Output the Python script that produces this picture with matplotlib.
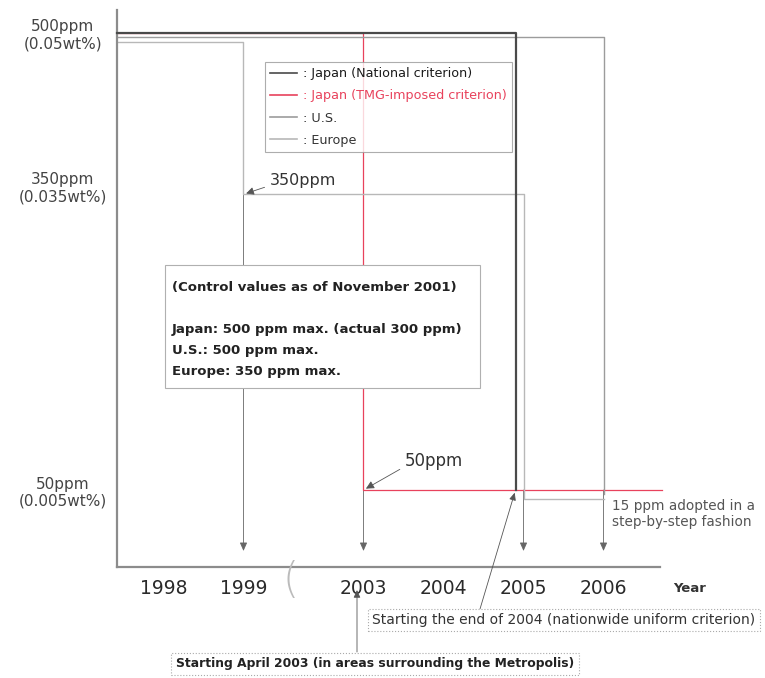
import numpy as np
import matplotlib
matplotlib.use('Agg')
import matplotlib.pyplot as plt
import matplotlib.transforms as mtransforms
from matplotlib.lines import Line2D
from matplotlib.patches import Rectangle

# ---- data ----
years = [1998, 1999, 2003, 2004, 2005, 2006]
ppm_ticks = [500, 350, 50]
ppm_labels = ['500ppm\n(0.05wt%)', '350ppm\n(0.035wt%)', '50ppm\n(0.005wt%)']

# year where the limit changes, ppm levels before/after, last year drawn
national_change = [2004.9]
national_ppm = [500, 50]
national_end = 2004.9
tmg_change = [2003]
tmg_ppm = [500, 50]
tmg_end = 2006.73
us_change = [2006]
us_ppm = [500, 50]
us_end = 2006
europe_change = [1999, 2005]
europe_ppm = [500, 350, 50]
europe_end = 2006

arrow_years = [1999, 2003, 2005, 2006]
arrow_ppm = [350, 50, 50, 50]

legend_labels = [': Japan (National criterion)', ': Japan (TMG-imposed criterion)',
                 ': U.S.', ': Europe']
box_lines = ['(Control values as of November 2001)', '',
             'Japan: 500 ppm max. (actual 300 ppm)',
             'U.S.: 500 ppm max.',
             'Europe: 350 ppm max.']


def xpos(year):
    """years 2000-2002 are left out of the axis"""
    year = float(year)
    if year >= 2003:
        return year - 2000.5
    return year - 1998


def step_xy(change, ppm, end, x0):
    xs = [x0]
    ys = [ppm[0]]
    for c, p0, p1 in zip(change, ppm[:-1], ppm[1:]):
        xs += [xpos(c), xpos(c)]
        ys += [p0, p1]
    xs.append(xpos(end))
    ys.append(ppm[-1])
    return xs, ys


W, H = 765, 678
fig = plt.figure(figsize=(W / 100, H / 100), dpi=100)
ax = fig.add_axes([117 / W, 1 - 567 / H, 543 / W, 557 / H])
ax.set_xlim(-0.581, 6.206)
ax.set_ylim(-25.8, 522.6)
x0 = ax.get_xlim()[0]

c_nat, c_tmg, c_us, c_eu = '#4a4a4a', '#e8425c', '#9c9c9c', '#b8b8b8'


def shifted(dy):
    return mtransforms.offset_copy(ax.transData, fig=fig, y=dy, units='dots')


tr_nat, tr_tmg, tr_us, tr_eu = shifted(0), shifted(0), shifted(-4), shifted(-9)

xs, ys = step_xy(tmg_change, tmg_ppm, tmg_end, x0)
ax.plot(xs, ys, color=c_tmg, lw=0.9, transform=tr_tmg, zorder=2, clip_on=False)
xs, ys = step_xy(europe_change, europe_ppm, europe_end, x0)
ax.plot(xs, ys, color=c_eu, lw=1.0, transform=tr_eu, zorder=2, clip_on=False)
xs, ys = step_xy(us_change, us_ppm, us_end, x0)
ax.plot(xs, ys, color=c_us, lw=1.0, transform=tr_us, zorder=2, clip_on=False)
xs, ys = step_xy(national_change, national_ppm, national_end, x0)
ax.plot(xs, ys, color=c_nat, lw=1.6, transform=tr_nat, zorder=3, clip_on=False)

# drop lines with arrows towards the year axis
for yr, p in zip(arrow_years, arrow_ppm):
    ax.annotate('', xy=(xpos(yr), -10), xytext=(xpos(yr), p),
                arrowprops=dict(arrowstyle='-|>,head_length=0.5,head_width=0.22',
                                color='#666666', lw=0.6, shrinkA=0, shrinkB=0),
                zorder=1)

# axes look
for s in ['top', 'right']:
    ax.spines[s].set_visible(False)
for s in ['left', 'bottom']:
    ax.spines[s].set_color('#8c8c8c')
    ax.spines[s].set_linewidth(1.6)
ax.set_xticks([xpos(y) for y in years], [str(y) for y in years])
ax.set_yticks(ppm_ticks, ppm_labels)
ax.tick_params(axis='x', length=0, pad=9, labelsize=13.5, labelcolor='#2a2a2a')
ax.tick_params(axis='y', length=0, pad=39, labelsize=11, labelcolor='#444444')
for t in ax.get_yticklabels():
    t.set_horizontalalignment('center')
    t.set_multialignment('center')
fig.text(690 / W, 1 - 588 / H, 'Year', fontsize=9.5, fontweight='bold',
         color='#333333', ha='center', va='center')
# axis break mark between 1999 and 2003
fig.text(291 / W, 1 - 580 / H, '(', fontsize=30, color='#bbbbbb',
         ha='center', va='center', fontweight='light')

# legend
handles = [Line2D([], [], color=c, lw=1.2) for c in [c_nat, c_tmg, c_us, c_eu]]
leg = ax.legend(handles, legend_labels, loc='upper left',
                bbox_to_anchor=(265 / W, 1 - 62 / H), bbox_transform=fig.transFigure,
                borderaxespad=0, fancybox=False, edgecolor='#999999',
                handlelength=2.1, handletextpad=0.5, labelspacing=0.72,
                prop={'size': 9.2},
                labelcolor=['#1a1a1a', c_tmg, '#333333', '#333333'])
leg.get_frame().set_linewidth(0.8)
leg.set_zorder(6)

# ppm callouts
ax.annotate('350ppm', xy=(xpos(1999), 350), xycoords=tr_eu,
            xytext=(270, H - 181), textcoords='figure pixels',
            fontsize=11.5, color='#333333', va='center',
            arrowprops=dict(arrowstyle='-|>,head_length=0.4,head_width=0.2',
                            color='#555555', lw=0.6, shrinkA=2, shrinkB=2,
                            relpos=(0, 0.2)))
ax.annotate('50ppm', xy=(xpos(2003), 50), xycoords=tr_tmg,
            xytext=(405, H - 461), textcoords='figure pixels',
            fontsize=12, color='#333333', va='center',
            arrowprops=dict(arrowstyle='-|>,head_length=0.4,head_width=0.2',
                            color='#555555', lw=0.6, shrinkA=2, shrinkB=2,
                            relpos=(0, 0.2)))
fig.text(612 / W, 1 - 514 / H, '15 ppm adopted in a\nstep-by-step fashion',
         fontsize=9.8, color='#555555', va='center', ha='left', linespacing=1.1)

# control values box
ax.add_patch(Rectangle((165 / W, 1 - 388 / H), 315 / W, 123 / H,
                       transform=fig.transFigure, fc='white', ec='#b0b0b0',
                       lw=0.8, zorder=6, clip_on=False))
fig.text(172 / W, 1 - 281 / H, '\n'.join(box_lines), fontsize=9.5,
         fontweight='bold', color='#222222', va='top', ha='left',
         linespacing=1.8, zorder=7)

# starting-date notes
ax.annotate('', xy=(xpos(2004.9), 50), xycoords=tr_nat,
            xytext=(480, H - 609), textcoords='figure pixels',
            arrowprops=dict(arrowstyle='-|>,head_length=0.45,head_width=0.2',
                            color='#555555', lw=0.6, shrinkA=0, shrinkB=2))
fig.text(564 / W, 1 - 620 / H,
         'Starting the end of 2004 (nationwide uniform criterion)',
         fontsize=10, color='#333333', ha='center', va='center',
         bbox=dict(boxstyle='square,pad=0.3', fc='white', ec='#aaaaaa',
                   ls=':', lw=0.8))
ax.annotate('', xy=(357, H - 590), xycoords='figure pixels',
            xytext=(357, H - 652), textcoords='figure pixels',
            arrowprops=dict(arrowstyle='-|>,head_length=0.45,head_width=0.2',
                            color='#555555', lw=0.6, shrinkA=0, shrinkB=0))
fig.text(375 / W, 1 - 664 / H,
         'Starting April 2003 (in areas surrounding the Metropolis)',
         fontsize=8.9, fontweight='bold', color='#222222', ha='center', va='center',
         bbox=dict(boxstyle='square,pad=0.4', fc='white', ec='#aaaaaa',
                   ls=':', lw=0.8))

fig.savefig('out.png', dpi=100, facecolor='white')
